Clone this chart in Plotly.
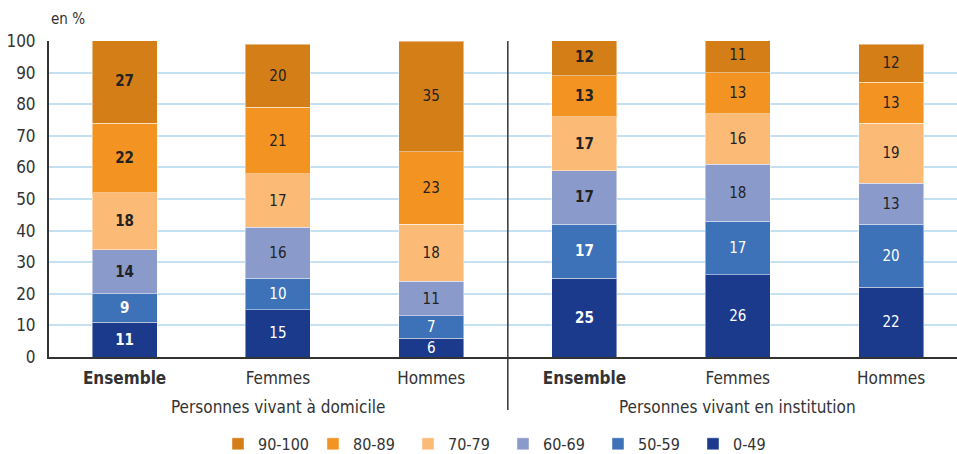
import plotly.graph_objects as go

# Categories: two groups of three bars
categories = ["Ensemble", "Femmes", "Hommes", "Ensemble", "Femmes", "Hommes"]
groups = ["Personnes vivant à domicile", "Personnes vivant en institution"]

# Shares (%) per score band, bottom to top of the stack
band_labels = ["0-49", "50-59", "60-69", "70-79", "80-89", "90-100"]
v_0_49 = [11, 15, 6, 25, 26, 22]
v_50_59 = [9, 10, 7, 17, 17, 20]
v_60_69 = [14, 16, 11, 17, 18, 13]
v_70_79 = [18, 17, 18, 17, 16, 19]
v_80_89 = [22, 21, 23, 13, 13, 13]
v_90_100 = [27, 20, 35, 12, 11, 12]

band_values = [v_0_49, v_50_59, v_60_69, v_70_79, v_80_89, v_90_100]
band_colors = ["#1B3A8C", "#3D72B8", "#8A9ACB", "#FBBA76", "#F39322", "#D47E18"]
text_colors = ["white", "white", "#222222", "#222222", "#222222", "#222222"]
bold_idx = {0, 3}

FONT = "Liberation Sans Narrow, DejaVu Sans Condensed, Arial Narrow, sans-serif"
x_pos = list(range(len(categories)))

fig = go.Figure()
for name, vals, col, tcol in zip(band_labels, band_values, band_colors, text_colors):
    txt = [f"<b>{v}</b>" if i in bold_idx else str(v) for i, v in enumerate(vals)]
    fig.add_trace(go.Bar(
        x=x_pos, y=vals, name=name, width=0.424,
        marker=dict(color=col, line=dict(color="rgba(255,255,255,0.45)", width=1)),
        text=txt, textposition="inside", insidetextanchor="middle", textangle=0,
        textfont=dict(family=FONT, size=15, color=tcol),
        hoverinfo="skip",
    ))

ticktext = [f"<b>{c}</b>" if i in bold_idx else c for i, c in enumerate(categories)]

fig.update_layout(
    barmode="stack",
    width=957, height=454,
    margin=dict(l=49, r=0, t=41, b=97, autoexpand=False),
    uniformtext=dict(minsize=15, mode="show"),
    plot_bgcolor="white", paper_bgcolor="white",
    font=dict(family=FONT, size=16, color="#333333"),
    showlegend=True,
    legend=dict(orientation="h", traceorder="reversed", x=0.5, xanchor="center",
                y=-0.275, yanchor="middle", font=dict(size=16, color="#333333"),
                entrywidth=50, entrywidthmode="pixels", itemwidth=30, tracegroupgap=0),
    xaxis=dict(range=[-0.493, 5.43], tickmode="array", tickvals=x_pos, ticktext=ticktext,
               showgrid=False, zeroline=False, showline=True, linecolor="#333333", linewidth=2,
               ticks="outside", ticklen=5, tickcolor="rgba(0,0,0,0)",
               tickfont=dict(family=FONT, size=17, color="#333333")),
    yaxis=dict(range=[0, 100], dtick=10, showgrid=True, gridcolor="#C5E0F0", gridwidth=2,
               zeroline=False, showline=True, linecolor="#333333", linewidth=2,
               ticks="outside", ticklen=8, tickcolor="rgba(0,0,0,0)",
               tickfont=dict(family=FONT, size=17, color="#333333")),
)

# Separator between the two groups
fig.add_shape(type="line", xref="x", yref="paper", x0=2.5, x1=2.5, y0=1, y1=-0.168,
              line=dict(color="#333333", width=1.5))

# Group labels under the categories
for gi, g in enumerate(groups):
    fig.add_annotation(x=1 + 3 * gi, y=-0.158, xref="x", yref="paper", text=g,
                       showarrow=False, yanchor="middle",
                       font=dict(family=FONT, size=17, color="#333333"))

fig.add_annotation(x=0.0, y=1.07, xref="paper", yref="paper", text="en %",
                   showarrow=False, xanchor="left", yanchor="middle",
                   font=dict(family=FONT, size=15, color="#333333"))

fig.write_html("out.html")
